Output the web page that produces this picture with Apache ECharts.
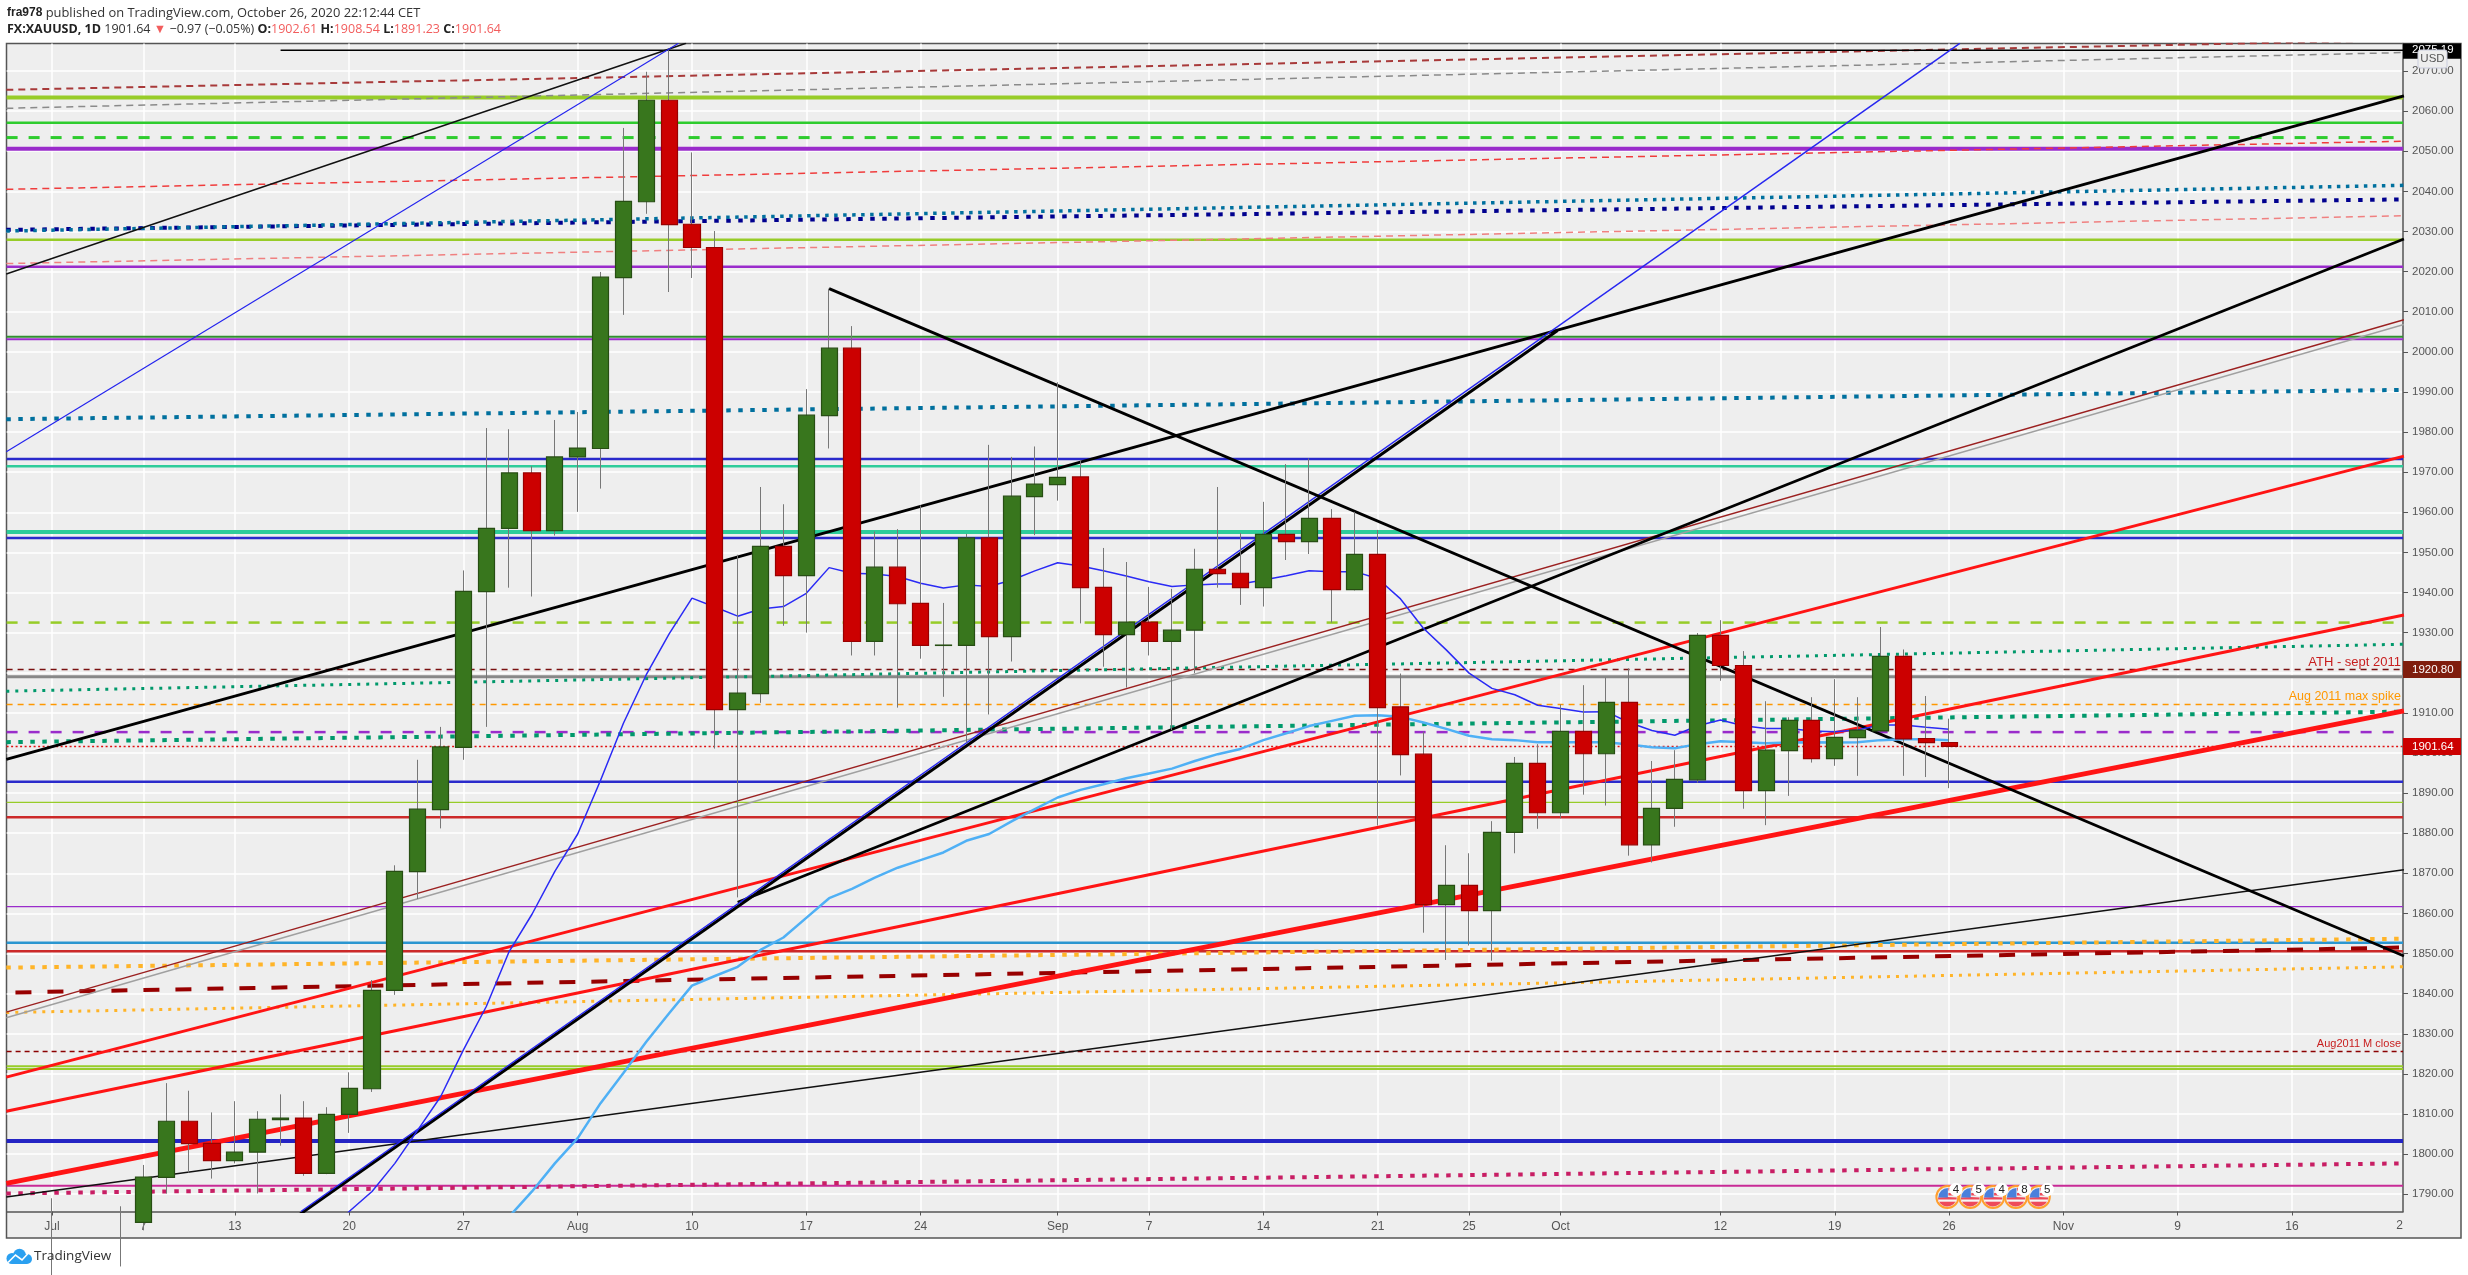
<!DOCTYPE html>
<html><head><meta charset="utf-8"><title>FX:XAUUSD</title>
<style>html,body{margin:0;padding:0;background:#fff}#c{width:2468px;height:1275px}</style>
<script src="https://cdn.jsdelivr.net/npm/echarts@6/dist/echarts.min.js"></script></head>
<body><div id="c"></div>
<script>
// ---- data ----
const firstBar = 2; // index of Jul 1 (Jun 29 = 0, weekdays only)
const opens = [1781,1770,1775,1774,1783,1794.2,1808.2,1802.7,1798.4,1800.5,1808.6,1809,1795.2,1809.9,1816.3,1840.8,1870.4,1885.9,1901.4,1940.2,1956,1969.8,1955.4,1973.8,1975.9,2018.5,2037.4,2062.7,2031.8,2026,1910.8,1914.8,1951.5,1944.2,1984.1,2000.9,1927.8,1946.3,1937.3,1926.8,1926.8,1953.6,1929,1963.9,1966.9,1968.8,1941.3,1929.5,1932.6,1927.8,1930.6,1945.8,1944.8,1941.2,1954.5,1952.7,1958.5,1940.7,1949.5,1911.5,1899.7,1862.2,1867,1860.7,1880.2,1897.4,1885.1,1905.4,1899.8,1912.6,1877.1,1886.2,1893.3,1929.3,1921.8,1890.6,1900.6,1908.1,1898.6,1903.8,1905.5,1924.1,1903.6,1902.61];
const closes = [1770,1775,1774,1783,1794.3,1808.2,1802.6,1798.4,1800.5,1808.7,1809,1795.2,1809.9,1816.4,1840.8,1870.5,1886,1901.5,1940.3,1956,1969.8,1955.4,1973.8,1976,2018.6,2037.5,2062.7,2031.7,2026,1910.8,1914.9,1951.5,1944.2,1984.2,2000.9,1927.8,1946.3,1937.2,1926.8,1926.9,1953.6,1929,1964,1967,1968.7,1941.2,1929.5,1932.6,1927.8,1930.6,1945.8,1944.7,1941.2,1954.5,1952.7,1958.5,1940.7,1949.5,1911.3,1899.6,1862.2,1867,1860.7,1880.2,1897.4,1885.1,1905.4,1899.8,1912.6,1877.1,1886.2,1893.4,1929.3,1921.8,1890.6,1900.7,1908.1,1898.6,1903.9,1905.7,1924.1,1903.5,1902.6,1901.64];
const highs = [1789,1784,1779,1787,1797.3,1817.7,1815.8,1810.4,1813.2,1810.7,1814.9,1813.2,1811.7,1820.4,1843.4,1872,1898.3,1906.5,1945.5,1981,1980.7,1971.5,1983,1985,2019.9,2055.8,2069.8,2075.2,2049.7,2030.1,1949.4,1966.3,1962,1990.7,2015.75,2006.4,1955.2,1955.8,1961.7,1937.4,1954.6,1976.8,1973.8,1976.4,1992.4,1973,1951.1,1947.6,1941.4,1940.9,1950.9,1966.3,1954.8,1962.6,1972,1973.4,1960.8,1960.1,1955.6,1919.8,1905.3,1877,1875,1883,1899,1902.2,1912.1,1916.9,1918.8,1921.1,1898,1900.7,1929.9,1933.1,1925.4,1912.9,1908.9,1913.9,1918.4,1913.9,1931.4,1925.8,1914.2,1908.54];
const lows = [1763,1765,1771,1772,1781,1790.2,1795.4,1793.9,1797.7,1790.2,1802.1,1794.6,1795,1805.3,1815.5,1839.7,1863.6,1881.2,1898.3,1906.5,1941.2,1939,1954.2,1960.1,1965.9,2009.2,2034.4,2014.9,2018.4,1901.1,1864,1912.5,1931.7,1930,1975.9,1924.3,1924.3,1911.3,1923.5,1914,1902.6,1909.6,1922.8,1954.3,1962.9,1932.3,1921.5,1916.3,1924.3,1905.7,1919.9,1941.2,1936.9,1936.5,1948.1,1949.6,1932.5,1940.5,1881.9,1894.4,1855.2,1848.4,1852,1848.2,1875,1881.1,1883.7,1889.6,1886.9,1874.4,1872.7,1881.6,1892.6,1918,1886.1,1882,1889.3,1897.6,1896.8,1894.3,1905.3,1894.3,1894,1891.23];

const maFastStart = 14;
const maFast = [1780,1785.7,1790.7,1797.7,1806,1814.3,1826,1836.8,1850.5,1859.8,1870.5,1879.8,1893.2,1907.4,1919.5,1929.7,1938.6,1936.4,1934.1,1935.9,1936.5,1939.8,1946.2,1944.8,1944.6,1944,1942.3,1941.1,1941.9,1941.5,1943.1,1945.4,1947.4,1946.6,1945.4,1944.1,1942.7,1941.5,1941.9,1942.1,1942.1,1943.1,1944.2,1945.4,1945.2,1945.2,1943.5,1938.4,1931.1,1925.7,1919.9,1916.1,1914.5,1911.9,1911.1,1910.2,1910.3,1907.6,1905.6,1904.4,1906.8,1908.2,1906.8,1906.1,1906.1,1905.5,1905.3,1905.7,1907,1907,1906.4,1905.9];
const maSlowStart = 22;
const maSlow = [1784.4,1790.7,1797.7,1804,1812.7,1820.2,1828,1835.1,1842,1844.4,1846.7,1850.9,1854,1858.9,1863.8,1866.1,1868.9,1871.4,1873.3,1875.2,1878.1,1879.8,1883,1886,1888.9,1890.8,1892.2,1893.7,1894.9,1896.1,1898,1899.7,1901,1903.2,1904.9,1906.7,1908,1909.3,1909.4,1909,1907.6,1906,1904.3,1903.4,1903.2,1902.7,1902.7,1902.7,1902.7,1902.1,1901.4,1901.2,1902.2,1902.9,1902.7,1902.4,1902.6,1902.7,1902.6,1902.7,1903.2,1903.4,1903.4,1903.2];

const levelPrices = [2063.4,2057.1,2053.4,2050.6,2027.9,2021.2,2003.15,2003.75,1973.3,1971.5,1955.1,1953.6,1932.5,1920.8,1919,1912.1,1905.2,1901.64,1892.8,1887.7,1884,1861.7,1852.7,1850.6,1825.6,1821.9,1821.2,1803.3,1792.1];
const slopedFrom = [[0,2065.3],[0,2060.7],[0,2040.5],[0,2022],[0,2030.4],[0,2030.1],[0,1983.2],[0,1915.4],[0,1902.7],[0,1846.5],[0.4,1840.3],[0,1835.3],[0,1790.2],[12,2075.19],[0,2019.4],[0,1975.1],[0,1835.4],[0,1834],[0,1789.3],[0,1819.2],[0,1810.7],[0,1792.7],[0,1898.4],[32,1862.8],[12.72,1784.5],[12.89,1785.7],[36,2015.75]];
const slopedTo = [[104.9,2077.7],[104.9,2074.6],[104.9,2052.5],[104.9,2033.9],[104.9,2038],[104.9,2041.5],[104.9,1990.5],[104.9,1927.1],[104.9,1910.3],[104.9,1853.7],[104.9,1851.5],[104.9,1846.7],[104.9,1797.7],[104.9,2075.19],[29.74,2076.9],[29.41,2076.9],[104.9,2008],[104.9,2006.8],[104.9,1870.9],[104.9,1974],[104.9,1934.4],[104.9,1910.5],[104.9,2063.8],[104.9,2028.1],[67.87,2005.3],[85.47,2076.9],[104.9,1849.4]];

const xTickIndex = [2,6,10,15,20,25,30,35,40,46,50,55,60,64,68,75,80,85,90,95,100];
const xTickLabels = ['Jul','7','13','20','27','Aug','10','17','24','Sep','7','14','21','25','Oct','12','19','26','Nov','9','16'];
const yTicks = [2070,2060,2050,2040,2030,2020,2010,2000,1990,1980,1970,1960,1950,1940,1930,1920,1910,1900,1890,1880,1870,1860,1850,1840,1830,1820,1810,1800,1790];
const earningsIndex = [85,86,87,88,89];
const earningsCounts = ['4','5','4','8','5'];

// ---- styling (parallel to the arrays above) ----
const C = {yg:'#97cc28',gr:'#2ecc2e',pu:'#9a2ccb',te:'#2ecc9a',bl:'#2a2acb',dr:'#8b1a1a',re:'#cc2929'};
const levelStyles = [
 [C.yg,4],[C.gr,2.5],[C.gr,3,[11,11]],[C.pu,4],[C.yg,2.5],[C.pu,2.5],[C.pu,2],['#2f8f2f',2],
 [C.bl,2.5],[C.te,2.5],[C.te,4],[C.bl,2.5],[C.yg,2.5,[11,11]],['#7a1010',1.5,[6,5]],['#888888',3],
 ['#ff9800',1.5,[6,5]],[C.pu,2.5,[11,11]],['#e01010',1.5,[2,2.5]],[C.bl,2.5],[C.yg,1.2],[C.re,2.5],
 [C.pu,1.2],['#2a96d0',2.5],[C.re,2.5],['#8b0000',1.5,[5,4]],[C.yg,2],[C.yg,2],['#2424c4',4],['#c82a96',2]
];
const slopedStyles = [
 ['#a83a3a',2,[7,5]],['#8a8a8a',1.5,[7,5]],['#f03c3c',1.5,[7,5]],['#f08080',1.5,[7,5]],
 ['#00008f',4,[4.5,7.5]],['#00709e',3.5,[3.5,5.5]],['#00709e',4,[4.5,7.5]],['#00996b',3,[3,6]],['#00996b',4,[4.5,7.5]],
 ['#ffb428',4,[4.5,7.5]],['#980000',4,[16,16]],['#ffb428',3,[3,6]],['#c81e64',4,[4.5,7.5]],
 ['#000000',1.5],['#111111',1.5],['#2222ee',1.2],['#9b2020',1.5],['#a0a0a0',1.5],['#111111',1.5],
 ['#ff1414',3],['#ff1414',3],['#ff1414',5],['#000000',3],['#000000',2.8],['#000000',3],['#2626f0',1.5],['#000000',2.8]
];

const barX = i => firstBar + i;
const wickData = opens.map((o,i)=>[barX(i),o,closes[i],lows[i],highs[i]]);
const bodyData = opens.map((o,i)=>[barX(i),o,closes[i],Math.min(o,closes[i]),Math.max(o,closes[i])]);
const X0 = 0.013, X1 = 104.86;

function lineSeries(points, color, width, dash, z){
  return {type:'line',data:points,symbol:'none',silent:true,animation:false,z:z||2,
    lineStyle:{color:color,width:width,type:dash||'solid',cap:'butt'}};
}
const series = [];
levelPrices.forEach((p,i)=>{const s=levelStyles[i];series.push(lineSeries([[X0,p],[X1,p]],s[0],s[1],s[2]));});
slopedFrom.forEach((a,i)=>{const s=slopedStyles[i];series.push(lineSeries([a,slopedTo[i]],s[0],s[1],s[2]));});
series.push(lineSeries(maSlow.map((v,i)=>[maSlowStart+i,v]),'#4fb0f5',2.5));
series.push(lineSeries(maFast.map((v,i)=>[maFastStart+i,v]),'#2a2af5',1.5));
series.push({type:'candlestick',data:wickData,barWidth:1,z:3,animation:false,silent:true,
  itemStyle:{color:'#777777',color0:'#777777',borderColor:'#777777',borderColor0:'#777777',borderWidth:1}});
series.push({type:'candlestick',data:bodyData,barWidth:16.6,z:4,animation:false,silent:true,
  itemStyle:{color:'#38761d',color0:'#cc0000',borderColor:'#274e13',borderColor0:'#990000',borderWidth:1.2}});

const el = document.getElementById('c');
const chart = echarts.init(el,null,{renderer:'canvas',width:2468,height:1275});
const FONT='"Liberation Sans",Arial,sans-serif';
chart.setOption({
  animation:false,backgroundColor:'#ffffff',
  grid:{left:6.6,right:65,top:43.5,bottom:63.5,containLabel:false},
  xAxis:{type:'value',min:X0,max:X1,position:'bottom',
    axisLine:{onZero:false,lineStyle:{color:'#555555',width:1.5}},
    axisTick:{show:true,length:4,customValues:xTickIndex,lineStyle:{color:'#555555'}},
    axisLabel:{show:true,customValues:xTickIndex,margin:9,fontSize:12,fontFamily:FONT,color:'#555555',
      formatter:v=>xTickLabels[xTickIndex.indexOf(v)]||''},
    splitLine:{show:true,lineStyle:{color:'#ffffff',width:1.5}}},
  yAxis:{type:'value',min:1785.7,max:2076.85,position:'right',
    axisLine:{show:true,onZero:false,lineStyle:{color:'#555555',width:1.5}},
    axisTick:{show:true,length:5,customValues:yTicks,lineStyle:{color:'#555555'}},
    axisLabel:{show:true,customValues:yTicks,margin:9,fontSize:11.5,fontFamily:FONT,color:'#555555',
      formatter:v=>v.toFixed(2)},
    splitLine:{show:true,lineStyle:{color:'#ffffff',width:1.5}}},
  series:series
});

// ---- annotations anchored through the axes ----
const py = p => chart.convertToPixel({yAxisIndex:0},p);
const px = i => chart.convertToPixel({xAxisIndex:0},i);
const AX = 2403;
function tag(price,bg,label){
  const y=py(price), top=Math.max(y-8.5,43.5), bot=y+8.5;
  return [{type:'rect',z:50,shape:{x:AX,y:top,width:58,height:bot-top},style:{fill:bg}},
    {type:'text',z:51,x:AX+9,y:y,style:{text:label,fill:'#fff',font:'11.5px '+FONT,verticalAlign:'middle'}}];
}
function note(price,text,color,size,dy){
  return {type:'text',z:20,x:2401,y:py(price)+dy,style:{text:text,fill:color,font:size+'px '+FONT,align:'right',verticalAlign:'middle'}};
}
const graphics = [
 {type:'rect',z:-10,shape:{x:6.5,y:43.5,width:2454.5,height:1194.5},style:{fill:'#eeeeee',stroke:'#555555',lineWidth:1.5}},
 ...tag(2075.19,'#000000','2075.19'),
 {type:'rect',z:52,shape:{x:2418,y:50,width:29,height:18,r:2},style:{fill:'#eeeeee',stroke:'#c8cbdc',lineWidth:1}},
 {type:'text',z:53,x:2432.5,y:59,style:{text:'USD',fill:'#555',font:'11.5px '+FONT,align:'center',verticalAlign:'middle'}},
 ...tag(1920.8,'#7f1d0d','1920.80'),
 ...tag(1901.64,'#cc0000','1901.64'),
 note(1920.8,'ATH - sept 2011','#c81e1e',13,-7.5),
 note(1912.1,'Aug 2011 max spike','#ff9800',12.5,-8),
 note(1825.6,'Aug2011 M close','#c81e1e',11,-7.5),
 {type:'text',z:20,x:2403,y:1226,style:{text:'2',fill:'#555',font:'12px '+FONT,align:'right',verticalAlign:'middle'}},
 {type:'text',z:60,x:7,y:13,style:{text:'{b|fra978} {n|published on TradingView.com, October 26, 2020 22:12:44 CET}',verticalAlign:'middle',
   rich:{b:{font:'bold 12.9px "Open Sans",'+FONT,fill:'#222',fontWeight:'bold'},n:{font:'12.9px "Open Sans",'+FONT,fill:'#333'}}}},
 {type:'text',z:60,x:7,y:29.5,style:{text:'{b|FX:XAUUSD, 1D} {n|1901.64} {r|▼} {n|−0.97 (−0.05%)} {b|O:}{r|1902.61} {b|H:}{r|1908.54} {b|L:}{r|1891.23} {b|C:}{r|1901.64}',verticalAlign:'middle',
   rich:{b:{font:'bold 12.5px "Open Sans",'+FONT,fill:'#222'},n:{font:'12.5px "Open Sans",'+FONT,fill:'#333'},r:{font:'12.5px "Open Sans",'+FONT,fill:'#f25d5d'}}}},
 // TradingView mark
 {type:'circle',z:60,shape:{cx:12,cy:1258.5,r:5.5},style:{fill:'#2aa0f0'}},
 {type:'circle',z:60,shape:{cx:19.5,cy:1255,r:6.2},style:{fill:'#2aa0f0'}},
 {type:'circle',z:60,shape:{cx:27,cy:1259,r:5},style:{fill:'#2aa0f0'}},
 {type:'rect',z:60,shape:{x:12,y:1257,width:15,height:7},style:{fill:'#2aa0f0'}},
 {type:'polyline',z:61,shape:{points:[[8,1262.5],[15.5,1255],[22,1260],[28,1253.5]]},style:{stroke:'#fff',lineWidth:1.6,fill:null}},
 {type:'text',z:60,x:34,y:1256.5,style:{text:'TradingView',fill:'#333',font:'13.5px "Open Sans",'+FONT,verticalAlign:'middle'}}
];
earningsIndex.forEach((idx,k)=>{
  const cx=px(idx)-1.7, cy=1197;
  graphics.push(
   {type:'circle',z:30,shape:{cx:cx,cy:cy,r:11},style:{fill:'#eeeeee',stroke:'#ff9f2f',lineWidth:2}},
   {type:'sector',z:31,shape:{cx:cx,cy:cy,r:9.5,r0:0,startAngle:0.05,endAngle:Math.PI-0.05},style:{fill:'#ee4a5a'}},
   {type:'rect',z:31,shape:{x:cx+1,y:cy-9,width:7,height:2.5},style:{fill:'#ee4a5a'}},
   {type:'rect',z:31,shape:{x:cx+1,y:cy-4,width:9,height:2.5},style:{fill:'#ee4a5a'}},
   {type:'sector',z:32,shape:{cx:cx+0.5,cy:cy+0.5,r:9.5,r0:0,startAngle:Math.PI,endAngle:Math.PI*1.5},style:{fill:'#4a80dc'}},
   {type:'rect',z:32,shape:{x:cx-9,y:cy+2.5,width:18,height:2.2},style:{fill:'#f6f6f6'}},
   {type:'circle',z:33,shape:{cx:cx+8.5,cy:cy-7.5,r:6.7},style:{fill:'#ffffff'}},
   {type:'text',z:34,x:cx+8.5,y:cy-7.5,style:{text:earningsCounts[k],fill:'#222',font:'11.5px '+FONT,align:'center',verticalAlign:'middle'}}
  );
});
chart.setOption({graphic:{elements:graphics}});
</script></body></html>
